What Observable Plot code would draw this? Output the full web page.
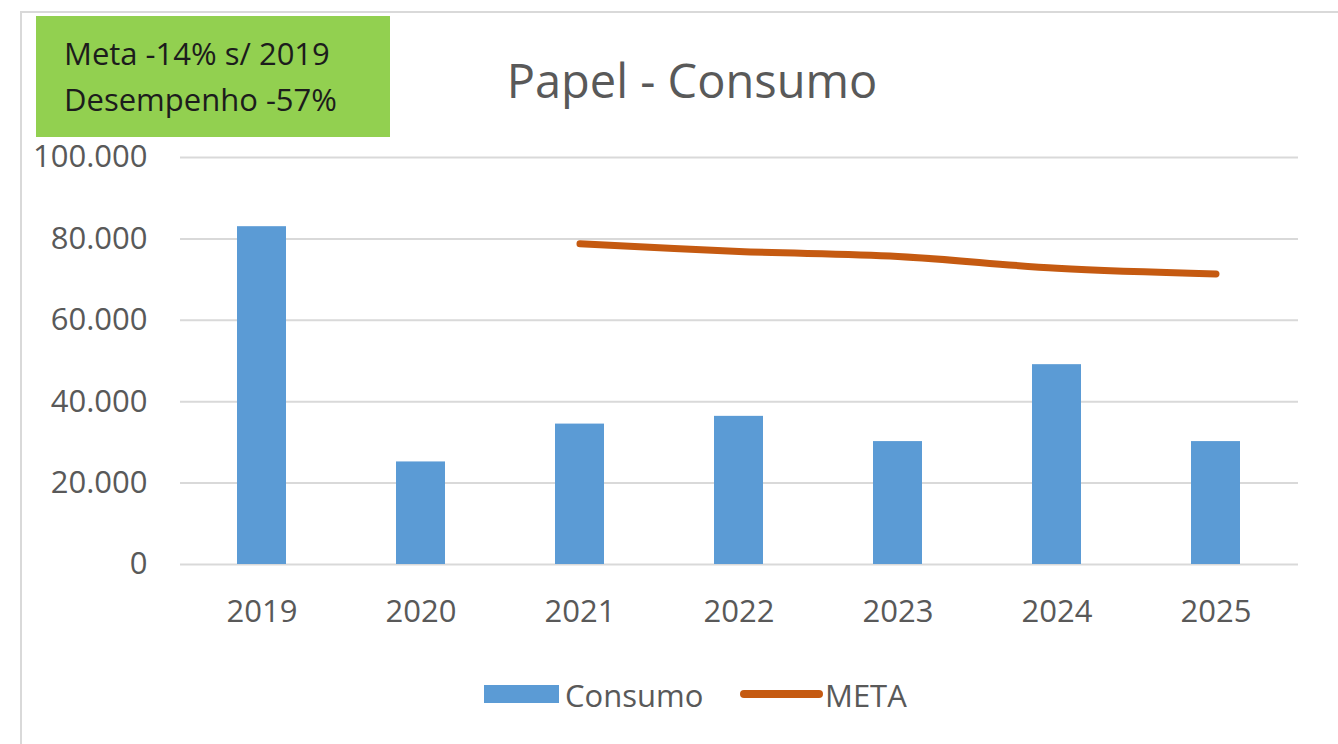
<!DOCTYPE html>
<html>
<head>
<meta charset="utf-8">
<script src="https://cdn.jsdelivr.net/npm/d3@7"></script>
<script src="https://cdn.jsdelivr.net/npm/@observablehq/plot@0.6"></script>
<style>
  html, body { margin: 0; padding: 0; background: #fff; }
  body { width: 1338px; height: 744px; position: relative; overflow: hidden; font-family: "Open Sans", sans-serif; }
  #frame { position: absolute; left: 20px; top: 11px; width: 1330px; height: 745px; border: 2px solid #d9d9d9; box-sizing: border-box; }
  #note { position: absolute; left: 36px; top: 16px; width: 354px; height: 121px; background: #92D050; color: #1c1c1c; font-size: 31px; line-height: 46px; box-sizing: border-box; padding: 14px 0 0 28px; white-space: nowrap; }
  #title { position: absolute; left: 0; width: 1384px; top: 48px; text-align: center; font-size: 47px; color: #595959; line-height: 64px; }
  #chart { position: absolute; left: 0; top: 0; }
  #legend { position: absolute; top: 672px; left: 0; width: 1338px; height: 46px; color: #595959; font-size: 31px; }
  .sw { position: absolute; }
  .lab { position: absolute; line-height: 46px; }
</style>
</head>
<body>
<div id="frame"></div>
<div id="chart"></div>
<div id="note"><div id="l1"></div><div id="l2"></div></div>
<div id="title"></div>
<div id="legend">
  <div class="sw" style="left:484px; top:13px; width:75px; height:18px; background:#5B9BD5;"></div>
  <div class="lab" id="lg1" style="left:565px; top:0;"></div>
  <div class="sw" style="left:740px; top:18px; width:83px; height:8px; border-radius:4px; background:#C55A11;"></div>
  <div class="lab" id="lg2" style="left:825px; top:0;"></div>
</div>
<script>
const titleText = "Papel - Consumo";
const noteLines = ["Meta -14% s/ 2019", "Desempenho -57%"];
const years = ["2019", "2020", "2021", "2022", "2023", "2024", "2025"];
const consumo = [83000, 25200, 34500, 36400, 30200, 49100, 30200];
const metaYears = ["2021", "2022", "2023", "2024", "2025"];
const meta = [78800, 76900, 75700, 72800, 71400];
const yTicks = [0, 20000, 40000, 60000, 80000, 100000];
const seriesNames = ["Consumo", "META"];

document.getElementById("title").textContent = titleText;
document.getElementById("l1").textContent = noteLines[0];
document.getElementById("l2").textContent = noteLines[1];
document.getElementById("lg1").textContent = seriesNames[0];
document.getElementById("lg2").textContent = seriesNames[1];

const bars = years.map((y, i) => ({year: y, value: consumo[i]}));
const line = metaYears.map((y, i) => ({year: y, value: meta[i]}));
const fmt = d => d3.format(",")(d).replace(/,/g, ".");

const plot = Plot.plot({
  width: 1338,
  height: 744,
  marginLeft: 180,
  marginRight: 40,
  marginTop: 157,
  marginBottom: 180,
  style: { fontSize: "31px", fontFamily: "Open Sans, sans-serif", color: "#595959", background: "transparent" },
  x: { domain: years, paddingInner: 0.69, paddingOuter: 0.345, label: null },
  y: { domain: [0, 100000], label: null },
  marks: [
    Plot.ruleY(yTicks, { stroke: "#d9d9d9", strokeWidth: 2 }),
    Plot.axisY({ ticks: yTicks, tickSize: 0, tickPadding: 33, tickFormat: fmt, label: null }),
    Plot.axisX({ tickSize: 0, tickPadding: 35, label: null }),
    Plot.barY(bars, { x: "year", y: "value", fill: "#5B9BD5" }),
    Plot.line(line, { x: "year", y: "value", stroke: "#C55A11", strokeWidth: 7, strokeLinecap: "round", curve: "catmull-rom" })
  ]
});
document.getElementById("chart").appendChild(plot);
</script>
</body>
</html>
